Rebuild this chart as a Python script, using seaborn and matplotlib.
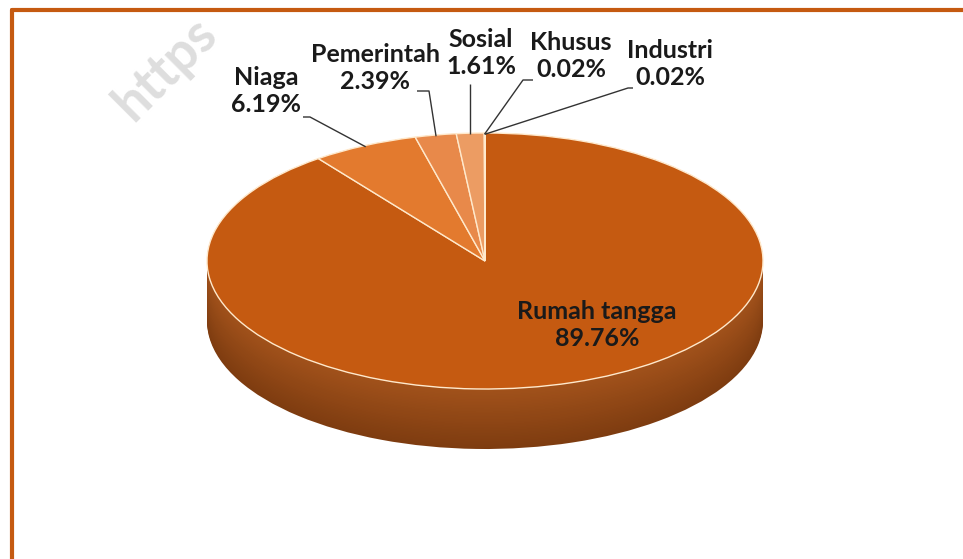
import numpy as np
import matplotlib
matplotlib.use("Agg")
import matplotlib.pyplot as plt
import matplotlib.colors as mcolors
import seaborn as sns

# ---- data ----
categories = ["Rumah tangga", "Niaga", "Pemerintah", "Sosial", "Khusus", "Industri"]
values = [89.76, 6.19, 2.39, 1.61, 0.02, 0.02]
top_colors = ["#C55A11", "#E37A2E", "#E8894A", "#EC9C63", "#F0B080", "#F4C49C"]

sns.set_theme(style="white")
plt.rcParams["font.family"] = ["Lato", "DejaVu Sans"]

W, H = 963, 559
fig = plt.figure(figsize=(W / 100, H / 100), dpi=100)
fig.patch.set_facecolor("white")
ax = fig.add_axes([0, 0, 1, 1])

# ellipse geometry in pixels
cx, cy, a, b, depth = 485, 261, 278, 128, 60

def px(x, y):
    return (x - cx) / a, (cy - y) / b

# side (stacked pies, slightly darker toward the bottom)
side_top = np.array(mcolors.to_rgb("#A2521B"))
side_bot = np.array(mcolors.to_rgb("#7E3C10"))
n = 40
for i, k in enumerate(np.linspace(depth / b, 0, n)):
    t = i / (n - 1)
    col = side_bot * (1 - t) + side_top * t
    ax.pie(values, startangle=90, counterclock=False, radius=1,
           center=(0, -k), colors=[col] * len(values),
           wedgeprops=dict(linewidth=0, antialiased=True), normalize=True)

# top face
wedges, _ = ax.pie(values, startangle=90, counterclock=False, radius=1,
                   center=(0, 0), colors=top_colors,
                   wedgeprops=dict(edgecolor="#FFE9CC", linewidth=1.0),
                   normalize=True)

ax.set_aspect("auto")
ax.set_xlim(-cx / a, (W - cx) / a)
ax.set_ylim(-(H - cy) / b, cy / b)
ax.axis("off")

# labels
label_font = dict(fontsize=18, fontweight="bold", color="#1A1A1A",
                  ha="center", va="center", linespacing=1.25)
lab_pos = {
    "Rumah tangga": (597, 325),
    "Niaga": (266, 91),
    "Pemerintah": (375, 68),
    "Sosial": (481, 53),
    "Khusus": (571, 56),
    "Industri": (670, 64),
}
leader_start = {
    "Niaga": [(303, 117), (310, 117)],
    "Pemerintah": [(417, 91), (429, 91)],
    "Sosial": [(473, 84)],
    "Khusus": [(533, 80), (523, 80)],
    "Industri": [(633, 88), (628, 88)],
}
for w, cat, v in zip(wedges, categories, values):
    x, y = px(*lab_pos[cat])
    ax.text(x, y, f"{cat}\n{v:.2f}%", **label_font)
    if cat in leader_start:
        mid = np.deg2rad((w.theta1 + w.theta2) / 2)
        ex, ey = np.cos(mid) * 0.99, np.sin(mid) * 0.99
        pts = [px(*p) for p in leader_start[cat]]
        if cat == "Sosial":
            pts = [(ex, pts[0][1])]
        xs = [p[0] for p in pts] + [ex]
        ys = [p[1] for p in pts] + [ey]
        ax.plot(xs, ys, color="#333333", lw=1.0, solid_capstyle="butt")

# watermark
fig.text(166 / W, 1 - 68 / H, "https", rotation=45, fontsize=38,
         fontweight="bold", color="#C8C8C8", alpha=0.6,
         ha="center", va="center", family=["Lato", "DejaVu Sans"])

# frame
frame_col = "#C55A11"
fig.add_artist(plt.Line2D([12 / W, 1], [1 - 10 / H, 1 - 10 / H],
                          transform=fig.transFigure, color=frame_col, lw=3))
fig.add_artist(plt.Line2D([12 / W, 12 / W], [1 - 10 / H, 0],
                          transform=fig.transFigure, color=frame_col, lw=3))

fig.savefig("out.png", dpi=100, facecolor="white")
